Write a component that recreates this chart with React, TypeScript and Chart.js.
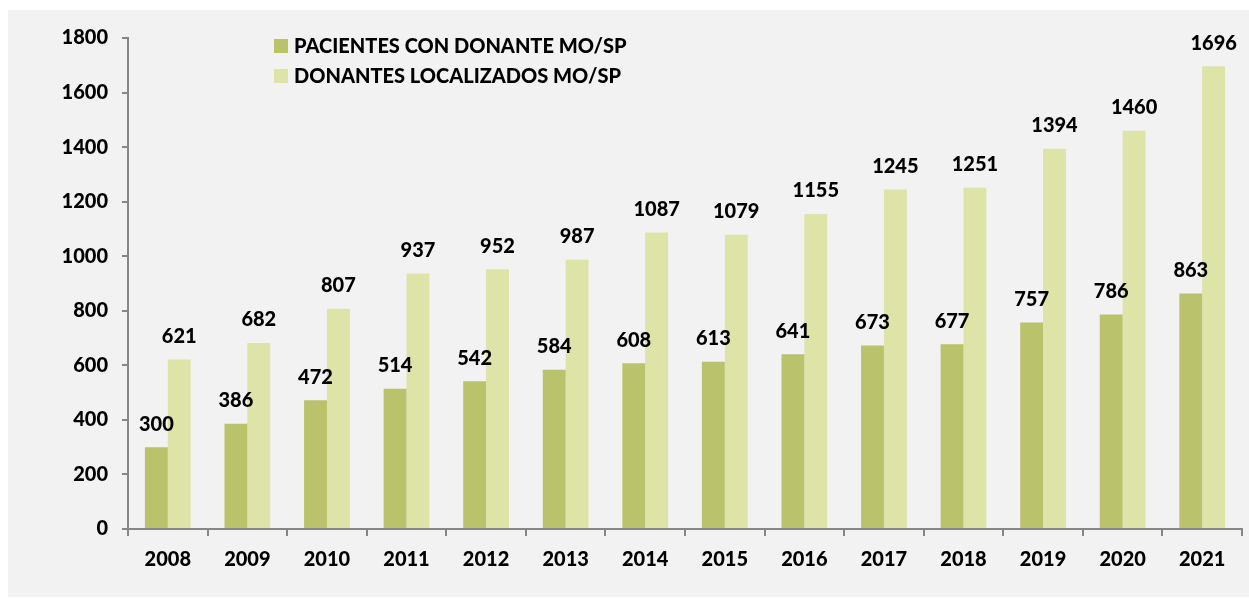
import React, { useEffect, useRef } from "react";
import { Chart, registerables } from "chart.js";

Chart.register(...registerables);

const years = ["2008", "2009", "2010", "2011", "2012", "2013", "2014", "2015", "2016", "2017", "2018", "2019", "2020", "2021"];
const pacientes = [300, 386, 472, 514, 542, 584, 608, 613, 641, 673, 677, 757, 786, 863];
const donantes = [621, 682, 807, 937, 952, 987, 1087, 1079, 1155, 1245, 1251, 1394, 1460, 1696];
const seriesNames = ["PACIENTES CON DONANTE MO/SP", "DONANTES LOCALIZADOS MO/SP"];
const colors = ["#BBC26C", "#DEE3A7"];

const FONT = "Lato, 'Noto Sans', sans-serif";

const labelsPlugin = {
  id: "valueLabels",
  afterDatasetsDraw(chart: any) {
    const ctx = chart.ctx;
    ctx.save();
    ctx.font = `900 20px ${FONT}`;
    ctx.fillStyle = "#000";
    ctx.textAlign = "center";
    ctx.textBaseline = "bottom";
    chart.data.datasets.forEach((ds: any, i: number) => {
      const meta = chart.getDatasetMeta(i);
      meta.data.forEach((el: any, j: number) => {
        ctx.fillText(String(ds.data[j]), el.x, el.y - 13);
      });
    });
    ctx.restore();
  },
};

const legendPlugin = {
  id: "innerLegend",
  afterDraw(chart: any) {
    const ctx = chart.ctx;
    const { left, top } = chart.chartArea;
    ctx.save();
    ctx.font = `900 20px ${FONT}`;
    ctx.textAlign = "left";
    ctx.textBaseline = "middle";
    chart.data.datasets.forEach((ds: any, i: number) => {
      const cy = top + 8 + i * 30;
      const x = left + 146;
      ctx.fillStyle = ds.backgroundColor;
      ctx.fillRect(x, cy - 7, 14, 14);
      ctx.fillStyle = "#000";
      ctx.fillText(ds.label, x + 20, cy + 1);
    });
    ctx.restore();
  },
};

export default function App() {
  const ref = useRef<HTMLCanvasElement>(null);
  useEffect(() => {
    if (!ref.current) return;
    const chart = new Chart(ref.current, {
      type: "bar",
      data: {
        labels: years,
        datasets: [
          { label: seriesNames[0], data: pacientes, backgroundColor: colors[0], categoryPercentage: 0.575, barPercentage: 1 },
          { label: seriesNames[1], data: donantes, backgroundColor: colors[1], categoryPercentage: 0.575, barPercentage: 1 },
        ],
      },
      options: {
        animation: false,
        responsive: false,
        maintainAspectRatio: false,
        layout: { padding: { top: 28, right: 7, left: 0, bottom: 0 } },
        plugins: { legend: { display: false }, tooltip: { enabled: false } },
        scales: {
          x: {
            grid: { display: true, drawOnChartArea: false, drawTicks: true, tickLength: 7, color: "#868686", lineWidth: 2, offset: true },
            border: { display: true, color: "#868686", width: 2 },
            ticks: { color: "#000", font: { family: FONT, size: 20, weight: "900" }, padding: 12, maxRotation: 0 },
            afterFit: (s: any) => { s.height = 68; },
          },
          y: {
            min: 0,
            max: 1800,
            ticks: {
              stepSize: 200,
              color: "#000",
              font: { family: FONT, size: 20, weight: "900" },
              padding: 14,
              callback: (v: any) => String(v),
            },
            grid: { display: true, drawOnChartArea: false, drawTicks: true, tickLength: 6, color: "#868686", lineWidth: 2 },
            border: { display: true, color: "#868686", width: 2 },
            afterFit: (s: any) => { s.width = 120; },
          },
        },
      } as any,
      plugins: [labelsPlugin, legendPlugin],
    });
    return () => chart.destroy();
  }, []);
  return (
    <div style={{ position: "fixed", left: 8, top: 10, width: 1241, height: 587, background: "#F2F2F2" }}>
      <canvas ref={ref} width={1241} height={587} style={{ display: "block" }} />
    </div>
  );
}
